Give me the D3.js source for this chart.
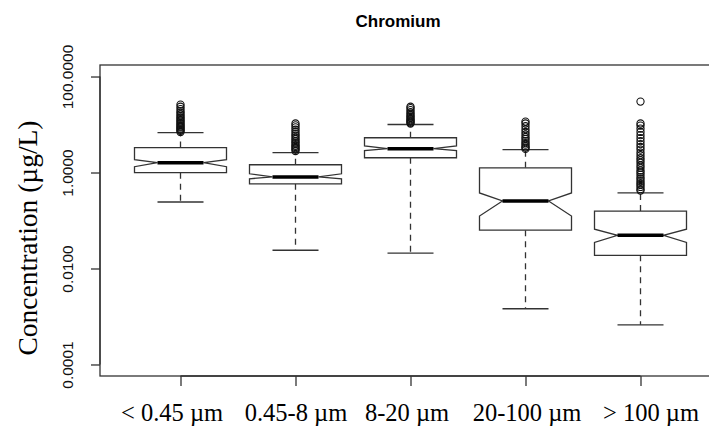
<!DOCTYPE html>
<html>
<head>
<meta charset="utf-8">
<script src="https://cdn.jsdelivr.net/npm/d3@7"></script>
<style>
  html, body { margin: 0; padding: 0; background: #fff; }
  svg { display: block; }
</style>
</head>
<body>
<svg id="chart" width="709" height="433"></svg>
<script>
// ---- data ----
const categories = ["< 0.45 \u00b5m", "0.45-8 \u00b5m", "8-20 \u00b5m", "20-100 \u00b5m", "> 100 \u00b5m"];
const whiskerLow  = [0.243, 0.024, 0.021, 0.00145, 0.00067];
const q1          = [0.99, 0.58, 2.03, 0.063, 0.0188];
const notchLow    = [1.32, 0.74, 2.85, 0.124, 0.035];
const medians     = [1.6, 0.81, 3.14, 0.255, 0.049];
const notchHigh   = [1.85, 0.94, 3.6, 0.375, 0.066];
const q3          = [3.3, 1.45, 5.3, 1.25, 0.157];
const whiskerHigh = [6.8, 2.59, 10.0, 2.99, 0.375];
const outliers = [
  [7.0, 7.4, 7.8, 8.2, 8.7, 9.1, 9.6, 10.2, 10.8, 11.5, 12.3, 13.0, 14.0, 15.0, 16.2, 17.5, 19.0, 21.0, 23.5, 26.0],
  [2.8, 3.0, 3.2, 3.4, 3.6, 3.9, 4.2, 4.5, 4.9, 5.3, 5.8, 6.3, 7.0, 7.8, 8.7, 9.6, 10.5],
  [10.5, 11.0, 11.6, 12.2, 12.9, 13.7, 14.6, 15.6, 16.8, 18.2, 20.0, 22.0, 23.5],
  [3.1, 3.3, 3.5, 3.8, 4.1, 4.5, 5.0, 5.5, 6.2, 7.0, 8.0, 9.2, 10.5, 11.5],
  [0.42, 0.45, 0.5, 0.55, 0.6, 0.66, 0.73, 0.8, 0.9, 1.0, 1.1, 1.25, 1.4, 1.6, 1.8, 2.0, 2.3, 2.6, 3.0, 3.4, 3.9, 4.5, 5.2, 6.0, 7.0, 8.2, 9.5, 10.5, 30.0]
];
const yTicks = [0.0001, 0.01, 1, 100];
const titleText = "Chromium";
const yLabel = "Concentration (\u00b5g/L)";

// ---- layout ----
const plot = { left: 100, right: 721, top: 65, bottom: 376 };
const labelShift = [-9, 0, -4, 1, 10];   // small horizontal nudges of the x labels
const svg = d3.select("#chart");

const x = d3.scaleLinear().domain([0.3, 5.7]).range([plot.left, plot.right]);
const y = d3.scaleLog()
  .domain([Math.pow(10, -4.24), Math.pow(10, 2.24)])
  .range([plot.bottom, plot.top]);

const halfW = 46;   // half box width in px
const notchW = 23;  // half width at the notch

// frame
svg.append("rect")
  .attr("x", plot.left).attr("y", plot.top)
  .attr("width", plot.right - plot.left).attr("height", plot.bottom - plot.top)
  .attr("fill", "none").attr("stroke", "#333").attr("stroke-width", 1.3);

// y axis
const yAxis = d3.axisLeft(y).tickValues(yTicks).tickSize(9).tickFormat(d3.format(".4f"));
const gy = svg.append("g").attr("transform", `translate(${plot.left},0)`).call(yAxis);
gy.select(".domain").attr("stroke", "#333").attr("stroke-width", 1.3)
  .attr("d", `M0,${y(0.0001)}V${y(100)}`);
gy.selectAll(".tick line").attr("stroke", "#333").attr("stroke-width", 1.3);
gy.selectAll(".tick text")
  .attr("font-family", "Liberation Sans, Arial, sans-serif")
  .attr("font-size", 15.5).attr("fill", "#111")
  .attr("text-anchor", "middle")
  .attr("x", 0).attr("dy", 0)
  .attr("transform", "translate(-33,0) rotate(-90)")
  .attr("dominant-baseline", "central");

// x axis
const xAxis = d3.axisBottom(x).tickValues(d3.range(1, categories.length + 1))
  .tickSize(10).tickFormat((d) => categories[d - 1]);
const gx = svg.append("g").attr("transform", `translate(0,${plot.bottom})`).call(xAxis);
gx.select(".domain").attr("stroke", "#333").attr("stroke-width", 1.3)
  .attr("d", `M${x(1)},0H${x(5)}`);
gx.selectAll(".tick line").attr("stroke", "#333").attr("stroke-width", 1.3);
gx.selectAll(".tick text")
  .attr("font-family", "Liberation Serif, Times New Roman, serif")
  .attr("font-size", 24.5).attr("fill", "#000")
  .attr("y", 45).attr("dy", 0)
  .attr("x", (d, i) => labelShift[i]);

// boxes
const g = svg.append("g");
categories.forEach((c, i) => {
  const cx = x(i + 1);
  const yw1 = y(whiskerLow[i]), yq1 = y(q1[i]), ynl = y(notchLow[i]),
        ym = y(medians[i]), ynh = y(notchHigh[i]), yq3 = y(q3[i]), yw2 = y(whiskerHigh[i]);
  // whiskers (dashed)
  g.append("line").attr("x1", cx).attr("x2", cx).attr("y1", yq3).attr("y2", yw2)
    .attr("stroke", "#333").attr("stroke-width", 1.3).attr("stroke-dasharray", "6,5");
  g.append("line").attr("x1", cx).attr("x2", cx).attr("y1", yq1).attr("y2", yw1)
    .attr("stroke", "#333").attr("stroke-width", 1.3).attr("stroke-dasharray", "6,5");
  // staples
  [yw1, yw2].forEach((yy) => {
    g.append("line").attr("x1", cx - halfW / 2).attr("x2", cx + halfW / 2)
      .attr("y1", yy).attr("y2", yy).attr("stroke", "#333").attr("stroke-width", 1.3);
  });
  // notched box
  const pts = [
    [cx - halfW, yq3], [cx + halfW, yq3], [cx + halfW, ynh], [cx + notchW, ym],
    [cx + halfW, ynl], [cx + halfW, yq1], [cx - halfW, yq1], [cx - halfW, ynl],
    [cx - notchW, ym], [cx - halfW, ynh]
  ];
  g.append("path").attr("d", d3.line()(pts) + "Z")
    .attr("fill", "#fff").attr("stroke", "#333").attr("stroke-width", 1.3);
  // median
  g.append("line").attr("x1", cx - notchW).attr("x2", cx + notchW)
    .attr("y1", ym).attr("y2", ym).attr("stroke", "#000").attr("stroke-width", 3.5);
  // outliers
  g.selectAll(null).data(outliers[i]).enter().append("circle")
    .attr("cx", cx).attr("cy", (d) => y(d)).attr("r", 3.6)
    .attr("fill", "none").attr("stroke", "#111").attr("stroke-width", 1.1);
});

// title
svg.append("text").attr("x", 398).attr("y", 27)
  .attr("text-anchor", "middle")
  .attr("font-family", "Liberation Sans, Arial, sans-serif")
  .attr("font-weight", "bold").attr("font-size", 17).attr("fill", "#000")
  .text(titleText);

// y label
svg.append("text")
  .attr("transform", `translate(37,238) rotate(-90)`)
  .attr("text-anchor", "middle")
  .attr("font-family", "Liberation Serif, Times New Roman, serif")
  .attr("font-size", 27.5).attr("fill", "#000")
  .text(yLabel);
</script>
</body>
</html>
